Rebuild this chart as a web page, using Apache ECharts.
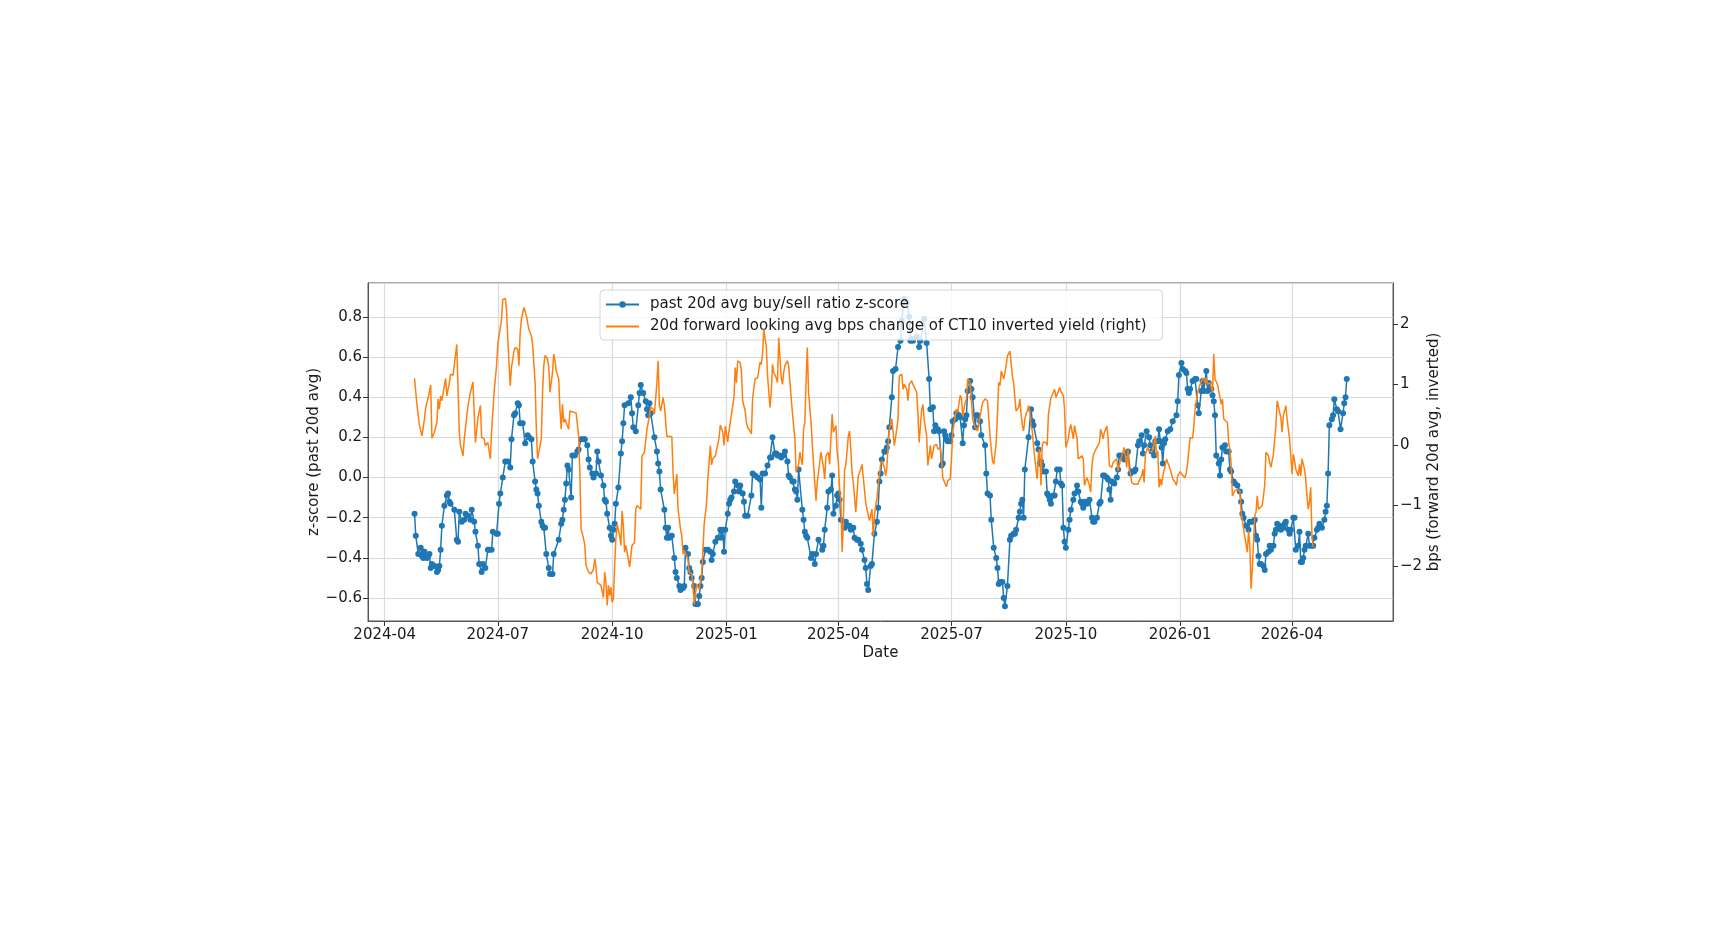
<!DOCTYPE html>
<html>
<head>
<meta charset="utf-8">
<title>buy/sell ratio z-score vs CT10 yield change</title>
<script src="https://cdn.jsdelivr.net/npm/echarts@6/dist/echarts.min.js"></script>
<style>
  html, body { margin: 0; padding: 0; background: #fff; }
  #chart { width: 1735px; height: 926px; }
</style>
</head>
<body>
<div id="chart"></div>
<script>
// values (left axis: z-score, right axis: bps)
const blueDates = [
  '2024-04-25','2024-04-26','2024-04-28','2024-04-30',
  '2024-05-01','2024-05-02','2024-05-03','2024-05-05','2024-05-06','2024-05-07','2024-05-08','2024-05-09','2024-05-11','2024-05-13','2024-05-14','2024-05-15','2024-05-16','2024-05-17','2024-05-19','2024-05-21','2024-05-22','2024-05-23','2024-05-24','2024-05-27','2024-05-29','2024-05-30','2024-05-31',
  '2024-06-02','2024-06-04','2024-06-05','2024-06-07','2024-06-09','2024-06-10','2024-06-12','2024-06-13','2024-06-15','2024-06-16','2024-06-18','2024-06-19','2024-06-21','2024-06-23','2024-06-24','2024-06-26','2024-06-27','2024-06-30',
  '2024-07-01','2024-07-02','2024-07-03','2024-07-05','2024-07-07','2024-07-09','2024-07-11','2024-07-12','2024-07-14','2024-07-15','2024-07-17','2024-07-18','2024-07-19','2024-07-21','2024-07-23','2024-07-25','2024-07-26','2024-07-28','2024-07-29','2024-07-31',
  '2024-08-01','2024-08-02','2024-08-03','2024-08-05','2024-08-06','2024-08-07','2024-08-08','2024-08-09','2024-08-11','2024-08-12','2024-08-14','2024-08-15','2024-08-19','2024-08-21','2024-08-22','2024-08-23','2024-08-24','2024-08-25','2024-08-26','2024-08-27','2024-08-29','2024-08-30',
  '2024-09-01','2024-09-03','2024-09-04','2024-09-06','2024-09-08','2024-09-09','2024-09-11','2024-09-12','2024-09-13','2024-09-15','2024-09-16','2024-09-18','2024-09-19','2024-09-20','2024-09-22','2024-09-24','2024-09-25','2024-09-26','2024-09-27','2024-09-29','2024-09-30',
  '2024-10-01','2024-10-02','2024-10-03','2024-10-04','2024-10-06','2024-10-08','2024-10-09','2024-10-10','2024-10-11','2024-10-14','2024-10-16','2024-10-17','2024-10-18','2024-10-20','2024-10-22','2024-10-23','2024-10-24','2024-10-26','2024-10-28','2024-10-29','2024-10-30','2024-10-31',
  '2024-11-01','2024-11-04','2024-11-06','2024-11-07','2024-11-08','2024-11-09','2024-11-12','2024-11-13','2024-11-14','2024-11-15','2024-11-16','2024-11-18','2024-11-20','2024-11-21','2024-11-22','2024-11-24','2024-11-25','2024-11-27','2024-11-28','2024-11-29',
  '2024-12-01','2024-12-02','2024-12-03','2024-12-04','2024-12-06','2024-12-07','2024-12-09','2024-12-10','2024-12-11','2024-12-12','2024-12-13','2024-12-15','2024-12-17','2024-12-19','2024-12-20','2024-12-21','2024-12-23','2024-12-25','2024-12-27','2024-12-28','2024-12-29','2024-12-30','2024-12-31',
  '2025-01-02','2025-01-03','2025-01-04','2025-01-05','2025-01-07','2025-01-08','2025-01-10','2025-01-11','2025-01-12','2025-01-14','2025-01-15','2025-01-16','2025-01-18','2025-01-21','2025-01-22','2025-01-24','2025-01-26','2025-01-28','2025-01-29','2025-01-30',
  '2025-02-01','2025-02-03','2025-02-05','2025-02-06','2025-02-07','2025-02-09','2025-02-10','2025-02-11','2025-02-13','2025-02-14','2025-02-16','2025-02-17','2025-02-19','2025-02-20','2025-02-21','2025-02-23','2025-02-24','2025-02-25','2025-02-26','2025-02-27','2025-02-28',
  '2025-03-03','2025-03-04','2025-03-05','2025-03-06','2025-03-07','2025-03-10','2025-03-11','2025-03-13','2025-03-14','2025-03-16','2025-03-19','2025-03-20','2025-03-21','2025-03-23','2025-03-24','2025-03-26','2025-03-27','2025-03-28','2025-03-30','2025-03-31',
  '2025-04-01','2025-04-02','2025-04-03','2025-04-06','2025-04-07','2025-04-09','2025-04-10','2025-04-11','2025-04-13','2025-04-14','2025-04-16','2025-04-17','2025-04-19','2025-04-20','2025-04-22','2025-04-23','2025-04-24','2025-04-25','2025-04-27','2025-04-28','2025-04-30',
  '2025-05-02','2025-05-03','2025-05-04','2025-05-05','2025-05-06','2025-05-08','2025-05-09','2025-05-10','2025-05-11','2025-05-12','2025-05-14','2025-05-15','2025-05-17','2025-05-19','2025-05-21','2025-05-22','2025-05-24','2025-05-26','2025-05-28','2025-05-29','2025-05-30','2025-05-31',
  '2025-06-03','2025-06-05','2025-06-06','2025-06-09','2025-06-11','2025-06-13','2025-06-14','2025-06-16','2025-06-17','2025-06-18','2025-06-20','2025-06-21','2025-06-23','2025-06-24','2025-06-25','2025-06-26','2025-06-27','2025-06-28','2025-06-30',
  '2025-07-01','2025-07-02','2025-07-04','2025-07-05','2025-07-07','2025-07-08','2025-07-10','2025-07-11','2025-07-12','2025-07-13','2025-07-14','2025-07-16','2025-07-17','2025-07-18','2025-07-20','2025-07-21','2025-07-22','2025-07-24','2025-07-25','2025-07-28','2025-07-29','2025-07-30',
  '2025-08-01','2025-08-02','2025-08-04','2025-08-06','2025-08-07','2025-08-08','2025-08-09','2025-08-11','2025-08-12','2025-08-13','2025-08-15','2025-08-17','2025-08-18','2025-08-20','2025-08-21','2025-08-22','2025-08-24','2025-08-25','2025-08-26','2025-08-27','2025-08-28','2025-08-29',
  '2025-09-01','2025-09-03','2025-09-04','2025-09-05','2025-09-08','2025-09-09','2025-09-10','2025-09-11','2025-09-12','2025-09-13','2025-09-15','2025-09-16','2025-09-17','2025-09-18','2025-09-19','2025-09-21','2025-09-22','2025-09-23','2025-09-24','2025-09-26','2025-09-27','2025-09-28','2025-09-29','2025-09-30',
  '2025-10-01','2025-10-03','2025-10-04','2025-10-05','2025-10-07','2025-10-08','2025-10-10','2025-10-11','2025-10-13','2025-10-14','2025-10-15','2025-10-16','2025-10-18','2025-10-19','2025-10-20','2025-10-22','2025-10-23','2025-10-24','2025-10-26','2025-10-28','2025-10-29','2025-10-31',
  '2025-11-01','2025-11-03','2025-11-04','2025-11-05','2025-11-06','2025-11-07','2025-11-09','2025-11-11','2025-11-12','2025-11-13','2025-11-15','2025-11-16','2025-11-17','2025-11-19','2025-11-20','2025-11-22','2025-11-23','2025-11-25','2025-11-26','2025-11-28','2025-11-29',
  '2025-12-01','2025-12-02','2025-12-03','2025-12-05','2025-12-07','2025-12-08','2025-12-09','2025-12-11','2025-12-12','2025-12-14','2025-12-15','2025-12-16','2025-12-17','2025-12-18','2025-12-19','2025-12-20','2025-12-22','2025-12-24','2025-12-26','2025-12-29','2025-12-30','2025-12-31',
  '2026-01-02','2026-01-03','2026-01-05','2026-01-06','2026-01-07','2026-01-08','2026-01-09','2026-01-11','2026-01-13','2026-01-14','2026-01-15','2026-01-16','2026-01-18','2026-01-19','2026-01-20','2026-01-22','2026-01-23','2026-01-24','2026-01-26','2026-01-27','2026-01-28','2026-01-29','2026-01-30',
  '2026-02-01','2026-02-02','2026-02-03','2026-02-04','2026-02-06','2026-02-07','2026-02-09','2026-02-10','2026-02-11','2026-02-13','2026-02-14','2026-02-16','2026-02-18','2026-02-19','2026-02-20','2026-02-21','2026-02-23','2026-02-25','2026-02-26','2026-02-27',
  '2026-03-01','2026-03-02','2026-03-03','2026-03-04','2026-03-05','2026-03-06','2026-03-07','2026-03-09','2026-03-10','2026-03-11','2026-03-13','2026-03-14','2026-03-15','2026-03-17','2026-03-18','2026-03-19','2026-03-20','2026-03-22','2026-03-23','2026-03-25','2026-03-26','2026-03-27','2026-03-29','2026-03-30','2026-03-31',
  '2026-04-02','2026-04-03','2026-04-04','2026-04-06','2026-04-07','2026-04-08','2026-04-09','2026-04-10','2026-04-11','2026-04-12','2026-04-14','2026-04-15','2026-04-17','2026-04-18','2026-04-19','2026-04-21','2026-04-22','2026-04-23','2026-04-25','2026-04-27','2026-04-28','2026-04-29','2026-04-30',
  '2026-05-01','2026-05-03','2026-05-04','2026-05-05','2026-05-07','2026-05-08','2026-05-10','2026-05-12','2026-05-13','2026-05-14','2026-05-15'
];
const blueValues = [
  -0.18,-0.29,-0.38,-0.35,
  -0.39,-0.40,-0.37,-0.40,-0.39,-0.38,-0.45,-0.43,-0.44,-0.47,-0.46,-0.44,-0.36,-0.24,-0.14,-0.09,-0.08,-0.12,-0.13,-0.16,-0.31,-0.32,-0.17,
  -0.22,-0.21,-0.18,-0.19,-0.21,-0.16,-0.22,-0.27,-0.34,-0.43,-0.47,-0.43,-0.45,-0.36,-0.36,-0.36,-0.27,-0.28,
  -0.28,-0.13,-0.08,0.00,0.08,0.08,0.05,0.19,0.31,0.32,0.37,0.36,0.27,0.27,0.17,0.21,0.20,0.19,0.08,-0.02,
  -0.06,-0.08,-0.14,-0.22,-0.24,-0.25,-0.25,-0.38,-0.45,-0.48,-0.48,-0.38,-0.31,-0.23,-0.21,-0.16,-0.11,-0.03,0.06,0.04,-0.10,0.11,
  0.11,0.13,0.14,0.19,0.19,0.19,0.16,0.09,0.05,0.02,0.00,0.02,0.13,0.08,0.01,-0.04,-0.11,-0.12,-0.18,-0.25,-0.29,
  -0.31,-0.26,-0.23,-0.13,-0.05,0.12,0.18,0.27,0.36,0.37,0.40,0.32,0.25,0.23,0.36,0.42,0.46,0.42,0.38,0.34,0.31,0.37,
  0.32,0.20,0.13,0.07,0.03,-0.06,-0.16,-0.25,-0.30,-0.25,-0.30,-0.29,-0.40,-0.47,-0.50,-0.54,-0.56,-0.55,-0.54,-0.35,
  -0.38,-0.45,-0.47,-0.50,-0.54,-0.63,-0.63,-0.59,-0.54,-0.50,-0.42,-0.36,-0.36,-0.37,-0.41,-0.38,-0.32,-0.30,-0.26,-0.30,-0.26,-0.37,-0.26,
  -0.18,-0.13,-0.11,-0.10,-0.07,-0.02,-0.04,-0.07,-0.04,-0.08,-0.12,-0.19,-0.19,-0.09,0.02,0.01,0.00,-0.01,-0.15,0.02,
  0.02,0.06,0.10,0.10,0.20,0.12,0.12,0.11,0.11,0.10,0.11,0.13,0.08,0.01,0.00,-0.02,-0.02,-0.06,-0.07,-0.11,0.04,
  -0.16,-0.21,-0.27,-0.29,-0.30,-0.40,-0.38,-0.43,-0.38,-0.31,-0.36,-0.34,-0.26,-0.15,-0.07,-0.06,0.01,-0.18,-0.14,-0.09,
  -0.08,-0.11,-0.21,-0.25,-0.22,-0.24,-0.24,-0.26,-0.25,-0.30,-0.31,-0.31,-0.33,-0.36,-0.41,-0.45,-0.53,-0.56,-0.44,-0.43,-0.28,
  -0.22,-0.15,-0.02,0.02,0.09,0.13,0.13,0.15,0.18,0.25,0.40,0.53,0.54,0.65,0.68,0.78,0.89,0.87,0.80,0.68,0.69,0.68,
  0.70,0.65,0.68,0.79,0.67,0.49,0.34,0.35,0.23,0.26,0.24,0.23,0.06,0.07,0.23,0.21,0.19,0.18,0.18,
  0.21,0.28,0.29,0.32,0.31,0.30,0.17,0.26,0.29,0.31,0.43,0.48,0.44,0.40,0.25,0.31,0.31,0.28,0.21,0.16,0.02,-0.08,
  -0.09,-0.21,-0.35,-0.40,-0.45,-0.53,-0.52,-0.52,-0.60,-0.64,-0.54,-0.31,-0.29,-0.28,-0.28,-0.26,-0.20,-0.17,-0.13,-0.11,-0.20,0.04,
  0.20,0.34,0.28,0.26,0.17,0.14,0.07,0.08,0.06,0.03,0.03,-0.08,-0.09,-0.11,-0.13,-0.09,-0.09,-0.02,0.04,0.04,-0.03,-0.04,-0.25,-0.32,
  -0.35,-0.26,-0.21,-0.16,-0.11,-0.08,-0.04,-0.07,-0.12,-0.13,-0.15,-0.12,-0.13,-0.12,-0.11,-0.20,-0.22,-0.22,-0.20,-0.13,-0.12,0.01,
  0.01,0.00,-0.01,-0.06,-0.11,-0.02,-0.03,0.00,0.04,0.11,0.11,0.10,0.09,0.12,0.13,0.02,0.03,0.03,0.04,0.16,0.18,
  0.21,0.12,0.16,0.23,0.20,0.16,0.13,0.11,0.18,0.18,0.24,0.18,0.15,0.07,0.17,0.19,0.23,0.24,0.28,0.31,0.38,0.51,
  0.57,0.54,0.53,0.52,0.44,0.42,0.44,0.48,0.49,0.49,0.36,0.32,0.43,0.48,0.43,0.53,0.43,0.47,0.44,0.41,0.38,0.31,0.11,
  0.07,0.01,0.09,0.15,0.16,0.13,0.13,0.04,0.03,-0.02,-0.03,-0.04,-0.07,-0.12,-0.18,-0.20,-0.24,-0.26,-0.22,-0.22,
  -0.22,-0.21,-0.29,-0.31,-0.39,-0.43,-0.43,-0.44,-0.46,-0.38,-0.37,-0.34,-0.36,-0.34,-0.28,-0.26,-0.23,-0.24,-0.26,-0.25,-0.23,-0.22,-0.26,-0.28,-0.26,
  -0.20,-0.20,-0.36,-0.34,-0.27,-0.42,-0.42,-0.40,-0.36,-0.34,-0.28,-0.34,-0.34,-0.34,-0.30,-0.26,-0.25,-0.23,-0.25,-0.21,-0.17,-0.14,0.02,
  0.26,0.29,0.31,0.39,0.34,0.33,0.24,0.32,0.37,0.40,0.49
];

const orangeDates = [
  '2024-04-25','2024-04-27','2024-04-29',
  '2024-05-01','2024-05-03','2024-05-04','2024-05-06','2024-05-08','2024-05-09','2024-05-11','2024-05-13','2024-05-14','2024-05-15','2024-05-16','2024-05-17','2024-05-19','2024-05-20','2024-05-21','2024-05-23','2024-05-24','2024-05-26','2024-05-27','2024-05-29','2024-05-31',
  '2024-06-01','2024-06-03','2024-06-04','2024-06-05','2024-06-07','2024-06-09','2024-06-11','2024-06-13','2024-06-15','2024-06-17','2024-06-18','2024-06-20','2024-06-21','2024-06-23','2024-06-24','2024-06-25','2024-06-26','2024-06-28','2024-06-30',
  '2024-07-01','2024-07-02','2024-07-04','2024-07-05','2024-07-07','2024-07-08','2024-07-09','2024-07-11','2024-07-12','2024-07-14','2024-07-15','2024-07-17','2024-07-18','2024-07-19','2024-07-20','2024-07-22','2024-07-23','2024-07-24','2024-07-26','2024-07-28','2024-07-29','2024-07-31',
  '2024-08-01','2024-08-02','2024-08-04','2024-08-05','2024-08-06','2024-08-07','2024-08-08','2024-08-10','2024-08-11','2024-08-12','2024-08-14','2024-08-15','2024-08-16','2024-08-17','2024-08-19','2024-08-20','2024-08-21','2024-08-22','2024-08-23','2024-08-24','2024-08-25','2024-08-27','2024-08-28','2024-08-29','2024-08-31',
  '2024-09-02','2024-09-04','2024-09-05','2024-09-06','2024-09-08','2024-09-09','2024-09-10','2024-09-12','2024-09-14','2024-09-16','2024-09-17','2024-09-18','2024-09-19','2024-09-20','2024-09-22','2024-09-23','2024-09-24','2024-09-25','2024-09-26','2024-09-27','2024-09-28','2024-09-29','2024-09-30',
  '2024-10-01','2024-10-02','2024-10-03','2024-10-04','2024-10-05','2024-10-06','2024-10-07','2024-10-08','2024-10-09','2024-10-10','2024-10-11','2024-10-12','2024-10-14','2024-10-15','2024-10-16','2024-10-17','2024-10-19','2024-10-20','2024-10-21','2024-10-22','2024-10-24','2024-10-25','2024-10-27','2024-10-28','2024-10-29','2024-10-31',
  '2024-11-01','2024-11-03','2024-11-04','2024-11-06','2024-11-07','2024-11-08','2024-11-09','2024-11-11','2024-11-12','2024-11-14','2024-11-15','2024-11-18','2024-11-19','2024-11-20','2024-11-22','2024-11-23','2024-11-24','2024-11-25','2024-11-26','2024-11-27','2024-11-28','2024-11-30',
  '2024-12-01','2024-12-02','2024-12-04','2024-12-05','2024-12-06','2024-12-07','2024-12-08','2024-12-09','2024-12-10','2024-12-12','2024-12-13','2024-12-14','2024-12-16','2024-12-17','2024-12-19','2024-12-20','2024-12-21','2024-12-23','2024-12-25','2024-12-26','2024-12-27','2024-12-29','2024-12-30','2024-12-31',
  '2025-01-02','2025-01-03','2025-01-04','2025-01-05','2025-01-07','2025-01-08','2025-01-09','2025-01-10','2025-01-12','2025-01-13','2025-01-14','2025-01-16','2025-01-17','2025-01-18','2025-01-20','2025-01-21','2025-01-22','2025-01-24','2025-01-26','2025-01-27','2025-01-28','2025-01-29','2025-01-30','2025-01-31',
  '2025-02-01','2025-02-02','2025-02-03','2025-02-05','2025-02-06','2025-02-07','2025-02-08','2025-02-10','2025-02-11','2025-02-12','2025-02-14','2025-02-15','2025-02-16','2025-02-17','2025-02-19','2025-02-20','2025-02-22','2025-02-23','2025-02-24','2025-02-25','2025-02-26','2025-02-28',
  '2025-03-01','2025-03-02','2025-03-03','2025-03-04','2025-03-05','2025-03-06','2025-03-07','2025-03-08','2025-03-10','2025-03-11','2025-03-12','2025-03-14','2025-03-15','2025-03-17','2025-03-18','2025-03-20','2025-03-21','2025-03-22','2025-03-24','2025-03-25','2025-03-26','2025-03-27','2025-03-28','2025-03-30','2025-03-31',
  '2025-04-01','2025-04-02','2025-04-03','2025-04-04','2025-04-05','2025-04-06','2025-04-07','2025-04-09','2025-04-10','2025-04-11','2025-04-12','2025-04-13','2025-04-15','2025-04-17','2025-04-19','2025-04-20','2025-04-21','2025-04-23','2025-04-24','2025-04-26','2025-04-28','2025-04-29','2025-04-30',
  '2025-05-01','2025-05-02','2025-05-03','2025-05-05','2025-05-06','2025-05-08','2025-05-09','2025-05-10','2025-05-11','2025-05-12','2025-05-14','2025-05-15','2025-05-16','2025-05-18','2025-05-19','2025-05-20','2025-05-22','2025-05-23','2025-05-24','2025-05-26','2025-05-27','2025-05-28','2025-05-30','2025-05-31',
  '2025-06-01','2025-06-03','2025-06-04','2025-06-05','2025-06-07','2025-06-08','2025-06-09','2025-06-11','2025-06-12','2025-06-14','2025-06-15','2025-06-16','2025-06-17','2025-06-19','2025-06-20','2025-06-22','2025-06-23','2025-06-24','2025-06-26','2025-06-27','2025-06-28','2025-06-30',
  '2025-07-01','2025-07-02','2025-07-04','2025-07-05','2025-07-06','2025-07-08','2025-07-09','2025-07-10','2025-07-12','2025-07-13','2025-07-14','2025-07-16','2025-07-17','2025-07-18','2025-07-20','2025-07-21','2025-07-22','2025-07-24','2025-07-25','2025-07-26','2025-07-28','2025-07-29','2025-07-30',
  '2025-08-01','2025-08-02','2025-08-03','2025-08-04','2025-08-06','2025-08-07','2025-08-08','2025-08-09','2025-08-10','2025-08-12','2025-08-13','2025-08-14','2025-08-15','2025-08-17','2025-08-18','2025-08-19','2025-08-20','2025-08-21','2025-08-22','2025-08-24','2025-08-25','2025-08-26','2025-08-27','2025-08-28','2025-08-29','2025-08-30','2025-08-31',
  '2025-09-01','2025-09-02','2025-09-03','2025-09-04','2025-09-05','2025-09-06','2025-09-07','2025-09-08','2025-09-09','2025-09-10','2025-09-11','2025-09-12','2025-09-13','2025-09-15','2025-09-16','2025-09-17','2025-09-18','2025-09-19','2025-09-21','2025-09-22','2025-09-23','2025-09-25','2025-09-26','2025-09-27','2025-09-29','2025-09-30',
  '2025-10-01','2025-10-03','2025-10-04','2025-10-05','2025-10-07','2025-10-08','2025-10-10','2025-10-11','2025-10-12','2025-10-14','2025-10-15','2025-10-16','2025-10-17','2025-10-18','2025-10-20','2025-10-21','2025-10-22','2025-10-23','2025-10-24','2025-10-26','2025-10-27','2025-10-28','2025-10-29','2025-10-30','2025-10-31',
  '2025-11-01','2025-11-03','2025-11-04','2025-11-05','2025-11-07','2025-11-08','2025-11-09','2025-11-11','2025-11-12','2025-11-13','2025-11-15','2025-11-16','2025-11-17','2025-11-19','2025-11-20','2025-11-21','2025-11-22','2025-11-23','2025-11-25','2025-11-26','2025-11-28','2025-11-29','2025-11-30',
  '2025-12-01','2025-12-02','2025-12-03','2025-12-04','2025-12-05','2025-12-06','2025-12-07','2025-12-09','2025-12-10','2025-12-12','2025-12-13','2025-12-14','2025-12-15','2025-12-16','2025-12-17','2025-12-18','2025-12-20','2025-12-21','2025-12-22','2025-12-24','2025-12-25','2025-12-26','2025-12-28','2025-12-29','2025-12-30',
  '2026-01-01','2026-01-02','2026-01-03','2026-01-05','2026-01-06','2026-01-07','2026-01-09','2026-01-10','2026-01-11','2026-01-12','2026-01-13','2026-01-14','2026-01-15','2026-01-17','2026-01-18','2026-01-19','2026-01-21','2026-01-22','2026-01-23','2026-01-24','2026-01-25','2026-01-27','2026-01-28','2026-01-29','2026-01-31',
  '2026-02-01','2026-02-03','2026-02-04','2026-02-05','2026-02-06','2026-02-08','2026-02-09','2026-02-10','2026-02-11','2026-02-12','2026-02-13','2026-02-14','2026-02-16','2026-02-18','2026-02-19','2026-02-21','2026-02-22','2026-02-24','2026-02-25','2026-02-26','2026-02-27','2026-02-28',
  '2026-03-01','2026-03-02','2026-03-03','2026-03-04','2026-03-05','2026-03-06','2026-03-08','2026-03-09','2026-03-10','2026-03-11','2026-03-13','2026-03-14','2026-03-15','2026-03-17','2026-03-18','2026-03-19','2026-03-20','2026-03-22','2026-03-23','2026-03-24','2026-03-25','2026-03-27','2026-03-28','2026-03-30','2026-03-31',
  '2026-04-01','2026-04-02','2026-04-03','2026-04-04','2026-04-06','2026-04-07','2026-04-08','2026-04-09','2026-04-11','2026-04-12','2026-04-13','2026-04-14','2026-04-15','2026-04-16','2026-04-17','2026-04-18'
];
const orangeValues = [
  1.10,0.65,0.32,
  0.15,0.43,0.62,0.78,0.99,0.11,0.21,0.37,0.76,0.59,0.81,0.73,0.98,1.10,0.81,1.03,1.17,1.15,1.13,1.66,0.21,
  -0.01,-0.18,0.10,0.07,0.65,0.87,1.04,0.04,0.45,0.65,0.12,0.10,-0.01,0.04,0.01,-0.23,0.23,0.87,1.31,
  1.66,1.69,2.08,2.40,2.42,2.24,1.75,0.98,1.28,1.55,1.61,1.58,1.31,1.86,2.08,2.27,2.21,2.13,1.91,1.80,1.66,1.03,
  0.26,-0.23,-0.01,0.10,0.87,1.31,1.48,1.42,1.28,0.87,1.20,1.50,1.39,1.22,1.09,0.59,0.26,0.67,0.37,0.43,0.37,0.26,0.56,0.56,0.54,
  0.53,0.15,-0.45,-1.39,-1.55,-1.66,-1.99,-2.10,-2.13,-2.05,-1.88,-2.02,-2.27,-2.30,-2.32,-2.32,-2.52,-2.10,-2.27,-2.65,-2.32,-2.49,-2.35,
  -2.60,-2.54,-1.99,-1.55,-1.31,-1.33,-1.50,-1.66,-1.09,-1.33,-1.77,-1.66,-1.88,-2.02,-1.99,-1.66,-1.61,-1.06,-1.00,-0.98,-1.06,-0.18,-0.12,-0.10,0.26,0.48,
  0.63,0.59,0.51,1.03,1.39,0.65,0.56,0.78,0.65,0.14,0.14,0.14,-0.45,-0.81,-0.48,-1.06,-1.22,-1.39,-1.50,-1.80,-1.75,-1.83,
  -1.91,-2.10,-2.13,-2.32,-2.63,-2.60,-2.30,-2.30,-2.38,-2.13,-1.77,-1.31,-0.95,-0.56,-0.01,-0.33,-0.23,-0.18,0.01,0.12,0.33,0.21,-0.01,0.31,
  0.05,0.23,0.37,0.51,0.78,1.28,1.03,1.39,1.36,1.22,0.73,0.56,0.37,0.29,0.23,0.18,0.78,1.09,1.11,1.14,1.37,1.33,1.50,1.91,
  1.76,1.64,1.14,0.62,0.87,1.33,1.20,1.11,1.03,1.77,1.11,1.00,1.20,1.31,1.39,1.31,0.78,0.54,0.32,0.10,-0.45,-0.32,
  -0.12,-0.23,-0.33,0.26,0.37,1.03,1.61,0.87,0.37,0.37,-0.32,-0.92,-0.62,-0.29,-0.12,-0.37,-0.56,-0.18,-0.12,-0.32,0.12,0.51,0.21,0.32,-0.12,
  -0.29,-0.73,-0.92,-1.77,-1.28,-0.40,-0.34,0.15,0.23,-0.07,-0.45,-0.62,-1.11,-0.51,-0.40,-0.32,-0.33,-0.95,-1.06,-1.25,-1.06,-1.50,-1.17,
  -1.00,-0.89,-0.67,-0.32,-0.26,-0.37,-0.51,-0.37,-0.01,0.26,0.43,0.42,-0.01,0.26,0.43,1.14,1.17,0.92,1.00,0.92,0.73,1.00,1.06,1.00,
  1.03,0.87,0.51,0.04,0.59,0.67,0.43,0.15,-0.34,-0.01,-0.23,-0.12,-0.01,0.01,-0.07,-0.04,-0.23,-0.54,-0.65,-0.69,-0.59,-0.56,
  -0.23,0.21,0.48,0.59,0.54,0.82,0.78,0.48,0.70,0.76,1.09,1.03,1.03,0.43,0.29,0.29,0.23,0.48,0.59,0.70,0.76,0.78,0.73,
  0.15,-0.07,-0.26,-0.32,0.04,0.51,1.03,0.98,1.22,1.09,1.20,1.32,1.47,1.55,1.58,1.14,1.03,0.78,0.56,0.62,0.76,0.51,0.32,0.23,0.43,0.51,0.56,
  0.65,0.56,0.32,0.23,-0.01,-0.23,-0.40,-0.56,-0.12,-0.07,-0.67,-0.01,0.05,0.04,-0.01,0.51,0.54,0.78,0.87,0.92,0.78,0.89,0.95,0.89,0.81,0.59,
  -0.04,0.10,0.26,0.34,0.10,0.32,0.10,-0.23,-0.26,-0.18,-0.23,-0.67,-0.59,-0.54,-0.67,-0.78,-0.34,-0.18,-0.12,-0.04,-0.01,0.04,0.26,0.18,0.10,
  0.21,0.31,0.10,-0.34,-0.37,-0.29,-0.29,-0.23,-0.43,-0.33,-0.18,-0.11,-0.04,-0.37,-0.07,-0.40,-0.48,-0.62,-0.65,-0.62,-0.65,-0.59,-0.56,
  -0.51,-0.40,-0.62,-0.15,-0.12,-0.04,-0.10,-0.12,-0.07,0.15,-0.18,-0.10,-0.70,-0.56,-0.67,-0.51,-0.34,-0.23,-0.29,-0.40,-0.48,-0.56,-0.62,-0.67,-0.51,
  -0.44,-0.48,-0.51,-0.54,-0.45,-0.29,0.12,0.10,0.11,0.32,0.59,0.73,0.87,1.00,1.03,1.11,1.03,1.11,1.00,0.98,1.03,0.87,1.50,1.09,1.00,
  1.03,0.67,0.76,0.43,0.43,0.37,0.04,-0.07,-0.32,-0.84,-0.81,-0.76,-0.73,-0.76,-1.11,-1.39,-1.39,-1.77,-1.42,-1.66,-2.38,-2.05,
  -1.61,-1.17,-1.11,-0.84,-1.06,-1.03,-1.00,-1.02,-0.67,-0.12,-0.18,-0.29,-0.37,-0.15,-0.12,0.32,0.73,0.54,0.45,0.21,0.48,0.65,0.43,0.10,-0.18,
  -0.48,-0.15,-0.26,-0.40,-0.51,-0.32,-0.51,-0.23,-0.40,-0.56,-0.84,-1.06,-0.95,-0.70,-1.50,-1.69
];

const blueName = 'past 20d avg buy/sell ratio z-score';
const orangeName = '20d forward looking avg bps change of CT10 inverted yield (right)';

// axis ranges
const xMin = new Date(2024, 2, 18, 13, 30).getTime();
const xMax = new Date(2026, 5, 21, 5, 0).getTime();
const leftMin = -0.714, leftMax = 0.968;
const rightMin = -2.908, rightMax = 2.675;

const FONT = 'DejaVu Sans';
const BLUE = '#1f77b4';
const ORANGE = '#ff7f0e';
const TEXT = '#1a1a1a';
const GRID = '#dadada';

function monthLabel(v) {
  const d = new Date(v);
  return d.getFullYear() + '-' + String(d.getMonth() + 1).padStart(2, '0');
}
function minus(s) {
  return String(s).replace('-', '\u2212');
}

const chart = echarts.init(document.getElementById('chart'));

chart.setOption({
  animation: false,
  backgroundColor: '#fff',
  grid: {
    left: 368, top: 283, width: 1025, height: 338,
    show: true, borderColor: '#555', borderWidth: 1
  },
  legend: {
    left: 600, top: 290, orient: 'vertical',
    padding: [7, 16, 6, 5], itemGap: 7, itemWidth: 33, itemHeight: 8,
    backgroundColor: 'rgba(255,255,255,0.8)', borderColor: '#d6d6d6', borderWidth: 1, borderRadius: 4,
    textStyle: { fontFamily: FONT, fontSize: 15, color: TEXT, padding: [0, 0, 0, 6] },
    data: [
      { name: blueName },
      { name: orangeName, itemStyle: { opacity: 0 } }
    ]
  },
  xAxis: {
    type: 'time', min: xMin, max: xMax, splitNumber: 9,
    name: 'Date', nameLocation: 'middle', nameGap: 25,
    nameTextStyle: { fontFamily: FONT, fontSize: 15, color: TEXT },
    axisLine: { show: true, onZero: false, lineStyle: { color: '#555', width: 1 } },
    axisTick: { show: true, length: 5, lineStyle: { color: '#333' } },
    axisLabel: {
      formatter: monthLabel, fontFamily: FONT, fontSize: 15, color: TEXT, margin: 7,
      showMinLabel: false, showMaxLabel: false
    },
    splitLine: { show: true, lineStyle: { color: GRID, width: 1.2 } }
  },
  yAxis: [
    {
      type: 'value', position: 'left', min: leftMin, max: leftMax, splitNumber: 8,
      name: 'z-score (past 20d avg)', nameLocation: 'middle', nameRotate: 90, nameGap: 46,
      nameMoveOverlap: false,
      nameTextStyle: { fontFamily: FONT, fontSize: 15, color: TEXT },
      axisLine: { show: true, onZero: false, lineStyle: { color: '#555', width: 1 } },
      axisTick: { show: true, length: 5, lineStyle: { color: '#333' } },
      axisLabel: {
        formatter: (v) => minus(v.toFixed(1)), fontFamily: FONT, fontSize: 15, color: TEXT, margin: 6,
        showMinLabel: false, showMaxLabel: false
      },
      splitLine: { show: true, lineStyle: { color: GRID, width: 1.2 } }
    },
    {
      type: 'value', position: 'right', min: rightMin, max: rightMax, splitNumber: 5,
      name: 'bps (forward 20d avg, inverted)', nameLocation: 'middle', nameRotate: 90, nameGap: 34,
      nameMoveOverlap: false,
      nameTextStyle: { fontFamily: FONT, fontSize: 15, color: TEXT },
      axisLine: { show: true, onZero: false, lineStyle: { color: '#555', width: 1 } },
      axisTick: { show: true, length: 5, lineStyle: { color: '#333' } },
      axisLabel: {
        formatter: (v) => minus(Math.round(v)), fontFamily: FONT, fontSize: 15, color: TEXT, margin: 7,
        showMinLabel: false, showMaxLabel: false
      },
      splitLine: { show: false }
    }
  ],
  series: [
    {
      name: blueName, type: 'line', yAxisIndex: 0, z: 2,
      data: blueDates.map((d, i) => [d, blueValues[i]]),
      symbol: 'circle', symbolSize: 6, showSymbol: true, showAllSymbol: true,
      lineStyle: { color: BLUE, width: 1.5 },
      itemStyle: { color: BLUE }
    },
    {
      name: orangeName, type: 'line', yAxisIndex: 1, z: 6,
      data: orangeDates.map((d, i) => [d, orangeValues[i]]),
      symbol: 'none', showSymbol: false,
      lineStyle: { color: ORANGE, width: 1.5 },
      itemStyle: { color: ORANGE }
    }
  ]
});
</script>
</body>
</html>
